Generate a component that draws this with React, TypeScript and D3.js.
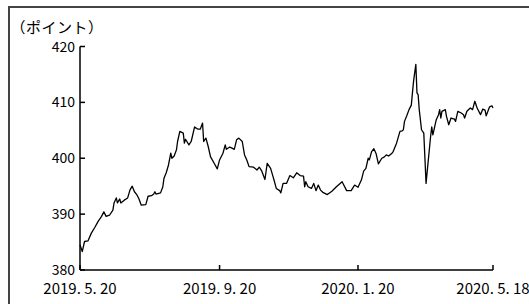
import React, { useEffect, useRef } from 'react';
import * as d3 from 'd3';

// index level (points)
const dates = [
  '2019-05-20', '2019-05-22', '2019-05-24', '2019-05-27', '2019-05-30', '2019-06-02', '2019-06-05', '2019-06-08',
  '2019-06-10', '2019-06-12', '2019-06-15', '2019-06-18', '2019-06-19', '2019-06-21', '2019-06-22', '2019-06-24',
  '2019-06-25', '2019-06-28', '2019-07-01', '2019-07-03', '2019-07-05', '2019-07-07', '2019-07-09', '2019-07-11',
  '2019-07-13', '2019-07-17', '2019-07-19', '2019-07-22', '2019-07-24', '2019-07-25', '2019-07-26', '2019-07-30',
  '2019-08-01', '2019-08-02', '2019-08-04', '2019-08-06', '2019-08-08', '2019-08-09', '2019-08-11', '2019-08-13',
  '2019-08-14', '2019-08-16', '2019-08-19', '2019-08-20', '2019-08-21', '2019-08-24', '2019-08-26', '2019-08-29',
  '2019-09-01', '2019-09-03', '2019-09-05', '2019-09-06', '2019-09-08', '2019-09-10', '2019-09-12', '2019-09-15',
  '2019-09-18', '2019-09-20', '2019-09-23', '2019-09-25', '2019-09-26', '2019-09-29', '2019-10-01', '2019-10-03',
  '2019-10-05', '2019-10-07', '2019-10-10', '2019-10-12', '2019-10-14', '2019-10-16', '2019-10-20', '2019-10-23',
  '2019-10-25', '2019-10-27', '2019-10-30', '2019-11-01', '2019-11-04', '2019-11-06', '2019-11-07', '2019-11-09',
  '2019-11-12', '2019-11-13', '2019-11-15', '2019-11-18', '2019-11-21', '2019-11-24', '2019-11-27', '2019-11-30',
  '2019-12-03', '2019-12-04', '2019-12-05', '2019-12-07', '2019-12-10', '2019-12-12', '2019-12-14', '2019-12-16',
  '2019-12-18', '2019-12-20', '2019-12-24', '2019-12-28', '2020-01-01', '2020-01-06', '2020-01-10', '2020-01-14',
  '2020-01-17', '2020-01-20', '2020-01-23', '2020-01-25', '2020-01-27', '2020-01-29', '2020-01-30', '2020-02-01',
  '2020-02-03', '2020-02-05', '2020-02-07', '2020-02-10', '2020-02-12', '2020-02-14', '2020-02-16', '2020-02-19',
  '2020-02-20', '2020-02-23', '2020-02-26', '2020-02-28', '2020-02-29', '2020-03-01', '2020-03-03', '2020-03-05',
  '2020-03-07', '2020-03-08', '2020-03-09', '2020-03-11', '2020-03-12', '2020-03-13', '2020-03-14', '2020-03-16',
  '2020-03-18', '2020-03-20', '2020-03-22', '2020-03-24', '2020-03-25', '2020-03-26', '2020-03-29', '2020-03-31',
  '2020-04-01', '2020-04-02', '2020-04-03', '2020-04-06', '2020-04-07', '2020-04-09', '2020-04-11', '2020-04-14',
  '2020-04-15', '2020-04-17', '2020-04-20', '2020-04-22', '2020-04-23', '2020-04-25', '2020-04-28', '2020-04-30',
  '2020-05-02', '2020-05-04', '2020-05-07', '2020-05-09', '2020-05-11', '2020-05-12', '2020-05-15', '2020-05-17',
  '2020-05-18',
];

const values = [
  384.5, 383.3, 385.1, 385.2, 386.6, 387.6, 388.7, 389.6,
  390.4, 389.6, 389.8, 390.7, 392.0, 392.9, 392.0, 392.7,
  392.0, 392.5, 392.9, 394.3, 395.0, 394.0, 393.5, 392.7,
  391.6, 391.7, 393.2, 393.3, 393.6, 394.0, 393.6, 393.8,
  394.9, 396.4, 397.4, 398.8, 400.9, 400.0, 400.4, 401.5,
  403.0, 404.8, 404.5, 402.7, 403.4, 402.4, 403.0, 405.6,
  405.2, 405.2, 406.3, 403.0, 403.6, 402.1, 400.3, 399.2,
  398.1, 399.7, 400.9, 402.4, 401.6, 402.0, 401.8, 401.6,
  403.3, 403.6, 403.0, 400.6, 399.7, 398.5, 398.4, 397.9,
  398.4, 397.8, 396.2, 399.1, 398.2, 396.8, 396.1, 394.6,
  394.2, 393.8, 395.5, 395.5, 396.9, 396.5, 397.4, 396.9,
  396.8, 394.9, 395.8, 394.9, 394.6, 395.5, 394.2, 395.2,
  394.3, 393.9, 393.5, 394.1, 394.9, 395.8, 394.2, 394.2,
  395.2, 394.8, 396.1, 397.7, 398.2, 400.0, 399.7, 401.2,
  401.7, 400.8, 399.0, 400.0, 400.2, 400.6, 400.4, 400.9,
  401.2, 402.7, 404.8, 404.9, 405.1, 406.6, 407.6, 408.7,
  409.5, 411.7, 413.8, 416.8, 411.7, 411.4, 408.7, 405.1,
  404.5, 395.5, 399.7, 403.9, 405.6, 404.2, 406.9, 407.8,
  408.7, 407.2, 408.4, 408.7, 407.5, 406.0, 407.2, 407.0,
  406.6, 408.4, 408.1, 407.8, 407.2, 408.4, 409.0, 408.7,
  410.2, 409.0, 407.8, 408.8, 408.6, 407.6, 409.2, 409.4,
  409.0,
];

const xTicks = ['2019-05-20', '2019-09-20', '2020-01-20', '2020-05-18'];
const xTickLabels = ['2019. 5. 20', '2019. 9. 20', '2020. 1. 20', '2020. 5. 18'];
const yTicks = [380, 390, 400, 410, 420];
const unitLabel = '（ポイント）';

const W = 529;
const H = 304;
const FONT = '"Noto Sans CJK JP", "Noto Sans", sans-serif';

const App = () => {
  const ref = useRef<SVGSVGElement>(null);

  useEffect(() => {
    const svg = d3.select(ref.current);
    svg.selectAll('*').remove();

    const parse = d3.timeParse('%Y-%m-%d');
    const data = dates.map((d, i) => ({ date: parse(d) as Date, value: values[i] }));

    const x = d3.scaleTime()
      .domain([parse(xTicks[0]) as Date, parse(xTicks[xTicks.length - 1]) as Date])
      .range([80, 493]);
    const y = d3.scaleLinear().domain([380, 420]).range([270, 46.5]);

    // outer frame (only top and left edges fall inside the picture)
    svg.append('path')
      .attr('d', `M9,${H + 5}V7H${W + 5}`)
      .attr('fill', 'none')
      .attr('stroke', '#444')
      .attr('stroke-width', 2);

    svg.append('text')
      .attr('x', 10.5)
      .attr('y', 32.5)
      .attr('font-family', FONT)
      .attr('font-size', 15)
      .attr('letter-spacing', 0.5)
      .attr('fill', '#000')
      .text(unitLabel);

    // y axis, ticks point inward
    const yAxis = svg.append('g');
    yAxis.append('line')
      .attr('x1', 80).attr('x2', 80)
      .attr('y1', y(420)).attr('y2', y(380))
      .attr('stroke', '#000').attr('stroke-width', 1.5);
    yTicks.forEach(t => {
      yAxis.append('line')
        .attr('x1', 80).attr('x2', 85)
        .attr('y1', y(t)).attr('y2', y(t))
        .attr('stroke', '#000').attr('stroke-width', 1.5);
      yAxis.append('text')
        .attr('x', 75)
        .attr('y', y(t))
        .attr('dy', '0.36em')
        .attr('text-anchor', 'end')
        .attr('font-family', FONT)
        .attr('font-size', 14)
        .text(t);
    });

    // x axis
    const xAxis = svg.append('g');
    xAxis.append('line')
      .attr('x1', 80).attr('x2', 493)
      .attr('y1', y(380)).attr('y2', y(380))
      .attr('stroke', '#000').attr('stroke-width', 1.5);
    xTicks.forEach((t, i) => {
      const xp = x(parse(t) as Date);
      xAxis.append('line')
        .attr('x1', xp).attr('x2', xp)
        .attr('y1', y(380)).attr('y2', y(380) - 5)
        .attr('stroke', '#000').attr('stroke-width', 1.5);
      xAxis.append('text')
        .attr('x', xp)
        .attr('y', 294)
        .attr('text-anchor', 'middle')
        .attr('font-family', FONT)
        .attr('font-size', 15)
        .text(xTickLabels[i]);
    });

    const line = d3.line<{ date: Date; value: number }>()
      .x(d => x(d.date))
      .y(d => y(d.value));

    svg.append('path')
      .datum(data)
      .attr('d', line)
      .attr('fill', 'none')
      .attr('stroke', '#000')
      .attr('stroke-width', 1.3)
      .attr('stroke-linejoin', 'round');
  }, []);

  return (
    <div style={{ position: 'absolute', left: 0, top: 0 }}>
      <svg ref={ref} width={W} height={H} style={{ display: 'block', background: '#fff' }}></svg>
    </div>
  );
};

export default App;
